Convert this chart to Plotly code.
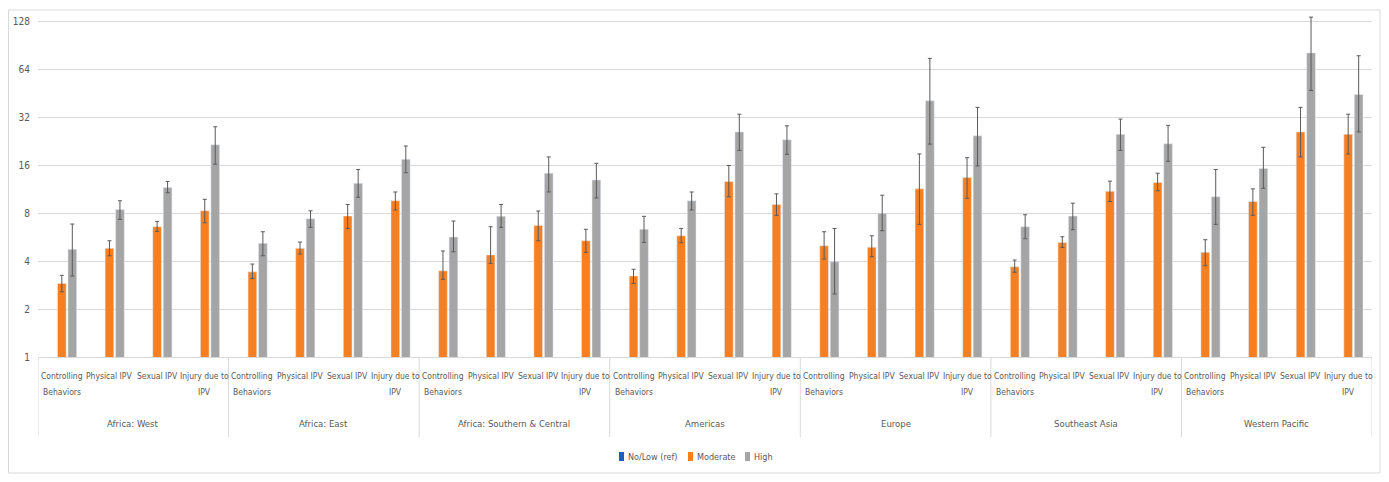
import plotly.graph_objects as go
import math

regions = ["Africa: West", "Africa: East", "Africa: Southern & Central", "Americas",
           "Europe", "Southeast Asia", "Western Pacific"]
outcomes = ["Controlling Behaviors", "Physical IPV", "Sexual IPV", "Injury due to IPV"]
# how each outcome label wraps on the axis (line 1, line 2)
outcome_lines = [("Controlling", "Behaviors"), ("Physical IPV", ""), ("Sexual IPV", ""),
                 ("Injury due to", "IPV")]

series_names = ["No/Low (ref)", "Moderate", "High"]

# Odds ratios (reference category = 1)
moderate = [2.9, 4.82, 6.59, 8.3,
            3.43, 4.82, 7.69, 9.6,
            3.48, 4.38, 6.72, 5.38,
            3.23, 5.78, 12.7, 9.1,
            5.0, 4.89, 11.4, 13.46,
            3.69, 5.25, 11.0, 12.5,
            4.55, 9.5, 26.0, 25.1]
moderate_hi = [3.26, 5.38, 7.12, 9.8,
               3.84, 5.28, 9.1, 10.9,
               4.64, 6.59, 8.27, 6.35,
               3.56, 6.43, 16.0, 10.6,
               6.13, 5.78, 18.9, 17.9,
               4.07, 5.7, 12.75, 14.3,
               5.46, 11.4, 37.1, 33.6]
moderate_lo = [2.57, 4.33, 6.16, 6.98,
               3.12, 4.44, 6.43, 8.4,
               3.08, 3.88, 5.38, 4.55,
               2.9, 5.23, 10.17, 7.77,
               4.13, 4.27, 6.82, 9.95,
               3.41, 4.89, 9.5, 11.1,
               3.75, 7.77, 18.1, 18.9]
high = [4.75, 8.47, 11.65, 21.6,
        5.18, 7.4, 12.35, 17.5,
        5.68, 7.66, 14.3, 12.97,
        6.35, 9.6, 26.0, 23.2,
        3.97, 8.0, 40.8, 24.6,
        6.59, 7.69, 25.1, 21.9,
        10.17, 15.3, 81.6, 44.7]
high_hi = [6.85, 9.6, 12.7, 28.0,
           6.13, 8.3, 15.1, 21.2,
           7.16, 9.1, 18.1, 16.5,
           7.66, 10.9, 33.6, 28.4,
           6.43, 10.4, 75.4, 37.1,
           7.84, 9.27, 31.3, 28.6,
           15.1, 20.8, 137.0, 78.3]
high_lo = [3.23, 7.33, 10.78, 16.3,
           4.33, 6.53, 10.1, 14.4,
           4.59, 6.53, 10.9, 10.0,
           5.25, 8.4, 19.9, 18.8,
           2.49, 6.22, 21.8, 15.9,
           5.54, 6.31, 19.9, 17.0,
           6.82, 11.5, 47.4, 26.0]
reference = [1.0] * 28

y_ticks = [1, 2, 4, 8, 16, 32, 64, 128]

# ---------------------------------------------------------------- styling
FONT = "DejaVu Sans Condensed, Liberation Sans Narrow, Liberation Sans, sans-serif"
TXT = "#595959"
LINE = "#D9D9D9"
ERR = "#5a5a5a"
colors = ["#1F5BC6", "#F58024", "#A5A5A5"]

x = [f"{r} | {o}" for r in regions for o in outcomes]

fig = go.Figure()
fig.add_trace(go.Bar(x=x, y=reference, name=series_names[0], marker_color=colors[0],
                     showlegend=False))
fig.add_trace(go.Bar(
    x=x, y=moderate, name=series_names[1], marker_color=colors[1], showlegend=False,
    error_y=dict(type="data", symmetric=False,
                 array=[h - v for h, v in zip(moderate_hi, moderate)],
                 arrayminus=[v - l for v, l in zip(moderate, moderate_lo)],
                 color=ERR, thickness=1, width=2)))
fig.add_trace(go.Bar(
    x=x, y=high, name=series_names[2], marker_color=colors[2], showlegend=False,
    error_y=dict(type="data", symmetric=False,
                 array=[h - v for h, v in zip(high_hi, high)],
                 arrayminus=[v - l for v, l in zip(high, high_lo)],
                 color=ERR, thickness=1, width=2)))

# page body has an 8px margin; figure is placed at (8, 8)
PLOT_H = 342.0  # plot area height in px
PLOT_W = 1334.0


def py(Y):  # screenshot y -> paper y
    return (357 - Y) / PLOT_H


def px(X):  # screenshot x -> paper x
    return (X - 38) / PLOT_W


top = 7.142 * math.log10(2)
fig.update_layout(
    width=1373, height=466,
    margin=dict(l=30, r=9, t=7, b=117),
    paper_bgcolor="white", plot_bgcolor="white",
    font=dict(family=FONT, size=10, color=TXT),
    barmode="group", bargap=0.34, bargroupgap=0.17,
    showlegend=False,
    xaxis=dict(type="category", showline=True, linecolor=LINE, linewidth=1,
               showticklabels=False, ticks="", automargin=False,
               range=[-0.5, len(x) - 0.5]),
    yaxis=dict(type="log", range=[0, top], tickvals=y_ticks, automargin=False,
               ticktext=[str(v) for v in y_ticks], ticklabelstandoff=7,
               showgrid=True, gridcolor=LINE, gridwidth=1, zeroline=False,
               showline=False, ticks="", tickfont=dict(family=FONT, size=10, color=TXT)),
)

annotations = []
shapes = []
n_out = len(outcomes)
for ri, region in enumerate(regions):
    for oi, (l1, l2) in enumerate(outcome_lines):
        idx = ri * n_out + oi
        annotations.append(dict(x=idx, xref="x", y=py(376), yref="paper", text=l1,
                                showarrow=False, xanchor="center", yanchor="middle",
                                font=dict(family=FONT, size=8.5, color=TXT)))
        if l2:
            annotations.append(dict(x=idx, xref="x", y=py(392), yref="paper", text=l2,
                                    showarrow=False, xanchor="center", yanchor="middle",
                                    font=dict(family=FONT, size=8.5, color=TXT)))
    annotations.append(dict(x=ri * n_out + (n_out - 1) / 2, xref="x", y=py(423), yref="paper",
                            text=region, showarrow=False, xanchor="center", yanchor="middle",
                            font=dict(family=FONT, size=9.5, color=TXT)))
for ri in range(len(regions) + 1):
    shapes.append(dict(type="line", xref="x", yref="paper",
                       x0=ri * n_out - 0.5, x1=ri * n_out - 0.5, y0=0, y1=py(437),
                       line=dict(color=LINE, width=1)))

# legend (manual, compact like the original)
legend_sq_x = [619, 688, 745]
for name, col, sx in zip(series_names, colors, legend_sq_x):
    shapes.append(dict(type="rect", xref="paper", yref="paper",
                       x0=px(sx), x1=px(sx + 5), y0=py(461), y1=py(452),
                       line=dict(width=0), fillcolor=col))
    annotations.append(dict(x=px(sx + 7), xref="paper", y=py(456.5), yref="paper",
                            text=name, showarrow=False, xanchor="left", yanchor="middle",
                            font=dict(family=FONT, size=9, color=TXT)))

# outer chart border
shapes.append(dict(type="rect", xref="paper", yref="paper",
                   x0=px(8.5), x1=px(1380), y0=py(473), y1=py(10),
                   line=dict(color=LINE, width=1), fillcolor="rgba(0,0,0,0)", layer="below"))

fig.update_layout(annotations=annotations, shapes=shapes)

fig.write_html("out.html")
